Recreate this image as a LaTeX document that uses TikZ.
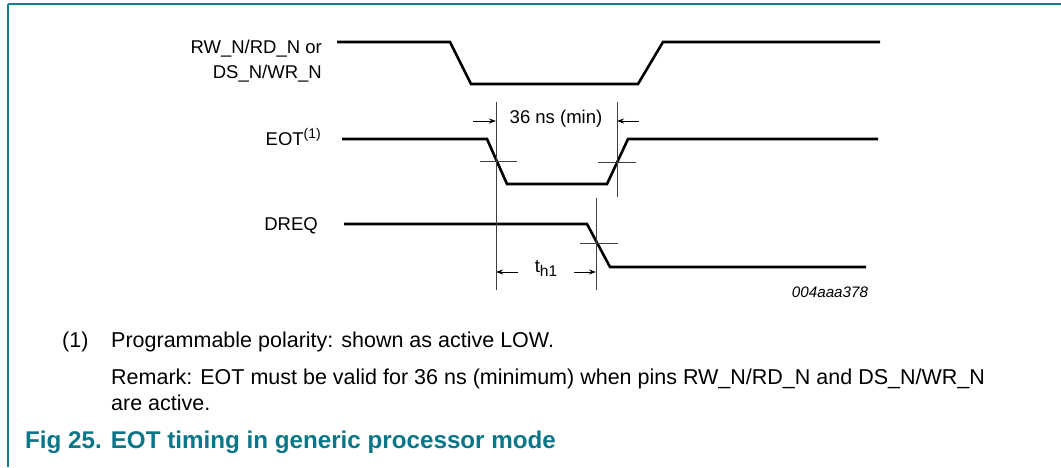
\documentclass[tikz,border=0pt]{standalone}
\usepackage{fontspec}
\setmainfont{Liberation Sans}
\usetikzlibrary{arrows.meta}
\definecolor{frame}{RGB}{20,126,146}
\definecolor{captc}{RGB}{10,118,136}
\tikzset{
  sig/.style={line width=2.6pt, line join=miter},
  guide/.style={line width=0.8pt, draw=black!75},
  tick/.style={line width=0.8pt, draw=black!75},
  dim/.style={line width=0.9pt, -{Stealth[length=7pt,width=5pt]}},
  lbl/.style={font=\fontsize{18.5}{22}\selectfont, inner sep=0pt},
  foot/.style={font=\fontsize{21.5}{25}\selectfont, inner sep=0pt, anchor=west},
}
\begin{document}
\begin{tikzpicture}[x=1pt,y=-1pt]
\useasboundingbox (0,0) rectangle (1061,467);
% frame
\draw[frame, line width=2.2pt] (8,4) -- (1061,4);
\draw[frame, line width=1.6pt] (8,4) -- (8,467);
% labels
\node[lbl, anchor=east] (rwlbl) at (322,49) {RW\_N/RD\_N or};
\node[lbl, anchor=east] (dslbl) at (322,74) {DS\_N/WR\_N};
\node[lbl, anchor=east] (eotlbl) at (321,137) {EOT\raisebox{7pt}{\fontsize{14}{16}\selectfont(1)}};
\node[lbl, anchor=east] (dreqlbl) at (318,226) {DREQ};
% waveforms
\draw[sig] (337,42) -- (450,42) -- (471,84) -- (638,84) -- (663,42) -- (880,42);
\draw[sig] (342,139) -- (487,139) -- (507,184) -- (607,184) -- (628,139) -- (878,139);
\draw[sig] (344,224) -- (587,224) -- (610,267) -- (866,267);
% guide lines
\coordinate (g1t) at (496,102); \coordinate (g1b) at (496,290);
\coordinate (g2t) at (617,102); \coordinate (g2b) at (617,197);
\coordinate (g3t) at (596,198); \coordinate (g3b) at (596,290);
\draw[guide] (g1t) -- (g1b);
\draw[guide] (g2t) -- (g2b);
\draw[guide] (g3t) -- (g3b);
% cross ticks
\draw[tick] (480,161) -- (517,161);
\draw[tick] (598,162) -- (636,162);
\draw[tick] (580,243) -- (618,243);
% dimension 36 ns
\node[lbl] (t36) at (556,119) {36 ns (min)};
\coordinate (a1) at (473,121); \coordinate (a1e) at (496,121);
\coordinate (a2) at (639,121); \coordinate (a2e) at (617,121);
\draw[dim] (a1) -- (a1e);
\draw[dim] (a2) -- (a2e);
% th1
\node[lbl] (th1) at (546,269) {t\raisebox{-4pt}{\fontsize{15.5}{18}\selectfont h1}};
\coordinate (b1) at (518,272); \coordinate (b1e) at (496,272);
\coordinate (b2) at (574,272); \coordinate (b2e) at (596,272);
\draw[dim] (b1) -- (b1e);
\draw[dim] (b2) -- (b2e);
% figure id
\node[font=\fontsize{15.2}{17}\selectfont\itshape, inner sep=0pt] (fid) at (830,292) {004aaa378};
% footnotes
\node[foot] (fn1n) at (62,342) {(1)};
\node[foot] (fn1) at (111,342) {Programmable polarity: shown as active LOW.};
\node[foot] (fn2) at (111,379) {Remark: EOT must be valid for 36 ns (minimum) when pins RW\_N/RD\_N and DS\_N/WR\_N};
\node[foot] (fn3) at (111,403) {are active.};
% caption
\node[foot, font=\fontsize{24.2}{28}\selectfont\bfseries, text=captc] (cap) at (25,442) {Fig 25. EOT timing in generic processor mode};
\end{tikzpicture}
\end{document}
